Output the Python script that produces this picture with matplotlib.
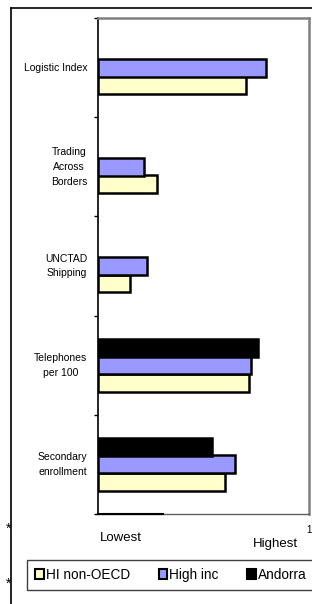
import matplotlib
matplotlib.use('Agg')
import matplotlib.pyplot as plt
from matplotlib.patches import Patch, Rectangle
from matplotlib.lines import Line2D
import numpy as np

plt.rcParams['font.family'] = ['Liberation Sans', 'DejaVu Sans']

# ── Données ──────────────────────────────────────────────────────────────────
categories = ['Logistic Index', 'Trading\nAcross\nBorders', 'UNCTAD\nShipping',
              'Telephones\nper 100', 'Secondary\nenrollment']
hi_non_oecd = [0.70, 0.28, 0.15, 0.715, 0.60]
high_inc    = [0.795, 0.22, 0.23, 0.725, 0.65]
andorra     = [np.nan, np.nan, np.nan, 0.757, 0.54]

C_YEL = '#FFFFCC'
C_BLU = '#9999FF'
C_BLK = '#000000'

fig = plt.figure(figsize=(3.12, 6.04), dpi=100)
ax = fig.add_axes([98/312, 1-514/604, 211/312, 496/604])

y = np.arange(len(categories)) + 0.5
h = 0.18
off = 0.177
ax.barh(y + off, hi_non_oecd, height=h, color=C_YEL, edgecolor='black', linewidth=1.8, zorder=3)
ax.barh(y, high_inc, height=h, color=C_BLU, edgecolor='black', linewidth=1.8, zorder=3)
ax.barh(y - off, andorra, height=h, color=C_BLK, edgecolor='black', linewidth=1.8, zorder=3)

ax.set_xlim(0, 1)
ax.set_ylim(len(categories), 0)
ax.set_yticks(np.arange(len(categories) + 1))
ax.set_yticklabels([])
ax.tick_params(axis='y', length=3, width=1, direction='out')
ax.set_xticks([])
for i, lab in enumerate(categories):
    ax.text(-0.05, y[i], lab, ha='right', va='center', fontsize=7.5,
            multialignment='center', linespacing=1.6)

for s in ['top', 'right']:
    ax.spines[s].set_color('#808080')
    ax.spines[s].set_linewidth(1.8)
ax.spines['left'].set_linewidth(1.2)
ax.spines['bottom'].set_linewidth(1.0)
ax.spines['bottom'].set_color('#606060')
# trait noir partiel de l'axe du bas
ax.plot([0, 0.31], [len(categories), len(categories)], color='black', lw=1.5,
        clip_on=False, zorder=4)

fig.text(309/312, 1-530/604, '1', fontsize=7, ha='center', va='center')
fig.text(100/312, 1-538/604, 'Lowest', fontsize=9.5, ha='left', va='center')
fig.text(298/312, 1-544/604, 'Highest', fontsize=9.5, ha='right', va='center')
fig.text(9/312, 1-529/604, '*', fontsize=10, ha='center', va='center')
fig.text(9/312, 1-584/604, '*', fontsize=10, ha='center', va='center')

# cadre extérieur
fig.add_artist(Line2D([11/312, 11/312], [0, 1-8/604], color='black', lw=1.2, transform=fig.transFigure))
fig.add_artist(Line2D([11/312, 1], [1-8/604, 1-8/604], color='black', lw=1.2, transform=fig.transFigure))

# cadre de la légende
fig.add_artist(Rectangle((27/312, 1-590/604), 290/312, 30/604, transform=fig.transFigure,
                         facecolor='white', edgecolor='#404040', linewidth=1.0))
handles = [Patch(facecolor=C_YEL, edgecolor='black', linewidth=1.5, label='HI non-OECD'),
           Patch(facecolor=C_BLU, edgecolor='black', linewidth=1.5, label='High inc'),
           Patch(facecolor=C_BLK, edgecolor='black', linewidth=1.5, label='Andorra')]
leg = fig.legend(handles=handles, loc='center left', ncol=3,
                 bbox_to_anchor=(35/312, 1-575/604), fontsize=9.8,
                 handlelength=0.65, handleheight=0.7, handletextpad=0.15,
                 columnspacing=2.1, frameon=False, borderpad=0, borderaxespad=0)

plt.savefig('out.png', dpi=100)
